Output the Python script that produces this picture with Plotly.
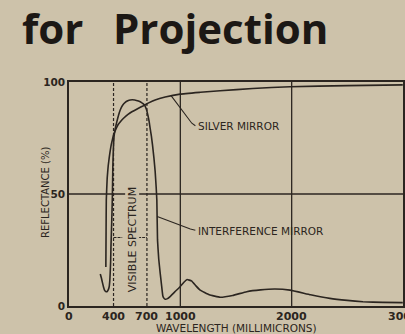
import plotly.graph_objects as go

# Reflectance curves, wavelength in millimicrons vs reflectance in percent
silver_wl = [331, 333, 335, 343, 352, 361, 370, 379, 390, 400, 420, 439, 465, 490, 530, 565, 620,
             669, 720, 774, 864, 998, 1180, 1357, 1650, 1985, 2500, 2998]
silver_r = [17.4, 33, 47.3, 57.1, 62.5, 66.1, 69.3, 71.9, 74.3, 76.3, 78.8, 80.8, 82.5, 83.8, 85.5, 86.7, 88.2,
            89.4, 90.8, 92, 93.3, 94.6, 95.4, 96.1, 97.1, 97.9, 98.4, 98.7]

interf_wl = [281, 291, 301, 310, 319, 330, 341, 352, 361, 366, 370, 374, 377, 381, 386, 390, 394, 400,
             406, 418, 430, 445, 460, 480, 505, 528, 550, 590, 624, 652, 678, 695, 708, 720, 729, 740,
             750, 763, 774, 783, 789, 795, 806, 819, 832, 843, 854, 864, 885, 908, 950, 998, 1030, 1061,
             1100, 1140, 1178, 1260, 1357, 1470, 1596, 1720, 1850, 1985, 2170, 2343, 2500, 2640, 2820, 2998]
interf_r = [14.3, 12.5, 10.3, 8.5, 7.1, 6.5, 6.4, 7.2, 8.6, 11, 14.7, 20, 26.5, 33, 41.5, 50, 63, 72,
            76.3, 79.8, 82.3, 85.2, 87.5, 89.5, 90.9, 91.6, 92, 92, 91.5, 90.8, 89.7, 87.8, 85.3, 82.3, 79.3, 75.8,
            71.9, 66, 60, 53, 47.3, 29.5, 21, 14.7, 9, 4.5, 3.4, 3, 3.3, 4.2, 6.3, 8.6, 10.5, 11.8,
            11.2, 9, 7.1, 5, 3.9, 4.7, 6.4, 7.2, 7.6, 7.1, 5, 3.4, 2.5, 1.9, 1.6, 1.5]

x_ticks = [0, 400, 700, 1000, 2000, 3000]
y_ticks = [0, 50, 100]
visible_band = [400, 700]
solid_grid_x = [1000, 2000]
solid_grid_y = [50]

BG = "#cdc2aa"
INK = "#2b2520"
FIG_W, FIG_H = 405, 334
M_L, M_R, M_T, M_B = 69, 2, 82, 28


def px(x):
    return (x - M_L) / (FIG_W - M_L - M_R)


def py(y):
    return (FIG_H - M_B - y) / (FIG_H - M_T - M_B)


fig = go.Figure()
for wl, r in ((silver_wl, silver_r), (interf_wl, interf_r)):
    fig.add_trace(go.Scatter(x=wl, y=r, mode="lines",
                             line=dict(color=INK, width=1.6, shape="spline", smoothing=0.3),
                             hoverinfo="skip", showlegend=False))

shapes = []
for v in visible_band:
    shapes.append(dict(type="line", xref="x", yref="y", x0=v, x1=v, y0=0, y1=100,
                       line=dict(color=INK, width=1.2, dash="3px,2px"), layer="below"))
for v in solid_grid_x:
    shapes.append(dict(type="line", xref="x", yref="y", x0=v, x1=v, y0=0, y1=100,
                       line=dict(color=INK, width=1.3), layer="below"))
for v in solid_grid_y:
    shapes.append(dict(type="line", xref="x", yref="y", x0=0, x1=3000, y0=v, y1=v,
                       line=dict(color=INK, width=1.3), layer="below"))

# bracket marks for the visible band label
bracket_r = 30.6
shapes.append(dict(type="line", xref="x", yref="y", x0=visible_band[0], x1=478, y0=bracket_r, y1=bracket_r,
                   line=dict(color=INK, width=1.1, dash="3px,1px")))
shapes.append(dict(type="line", xref="x", yref="y", x0=621, x1=visible_band[1], y0=bracket_r, y1=bracket_r,
                   line=dict(color=INK, width=1.1, dash="3px,1px")))

# leader lines to curve labels
shapes.append(dict(type="path", xref="x", yref="y",
                   path="M 915 94 L 1103 81.6 L 1135 80.5", line=dict(color=INK, width=1.1)))
shapes.append(dict(type="path", xref="x", yref="y",
                   path="M 792 40 L 1090 34.4 L 1135 33.8", line=dict(color=INK, width=1.1)))

label_font = dict(family="DejaVu Sans", size=10.5, color=INK)
title_font = dict(family="Open Sans", size=42, color="#1c1815", weight="bold")
tick_font = dict(family="DejaVu Sans", size=11, color=INK, weight="bold")
annotations = [
    dict(text="for", x=px(20), y=py(27), xref="paper", yref="paper", xanchor="left", yanchor="middle",
         showarrow=False, font=title_font),
    dict(text="Projection", x=px(111), y=py(27), xref="paper", yref="paper", xanchor="left", yanchor="middle",
         showarrow=False, font=title_font),
    dict(text="SILVER MIRROR", x=1145, y=80.5, xref="x", yref="y", xanchor="left", yanchor="middle",
         showarrow=False, font=label_font),
    dict(text="INTERFERENCE MIRROR", x=1145, y=33.6, xref="x", yref="y", xanchor="left", yanchor="middle",
         showarrow=False, font=label_font),
    dict(text="VISIBLE SPECTRUM", x=565, y=29.8, xref="x", yref="y", xanchor="center", yanchor="middle",
         textangle=-90, showarrow=False, bgcolor=BG, borderpad=0, font=dict(family="DejaVu Sans", size=11, color=INK)),
    dict(text="REFLECTANCE (%)", x=px(45), y=py(193), xref="paper", yref="paper", xanchor="center", yanchor="middle",
         textangle=-90, showarrow=False, font=dict(family="DejaVu Sans", size=10, color=INK)),
    dict(text="WAVELENGTH (MILLIMICRONS)", x=px(236.5), y=py(328), xref="paper", yref="paper",
         xanchor="center", yanchor="middle", showarrow=False, font=dict(family="DejaVu Sans", size=10.5, color=INK)),
]
# x tick labels written as text so the last one may run off the page edge
for v in x_ticks:
    annotations.append(dict(text=str(v), x=v, y=py(316), xref="x", yref="paper", xanchor="center",
                            yanchor="middle", showarrow=False, font=tick_font))

fig.update_layout(
    width=FIG_W, height=FIG_H,
    margin=dict(l=M_L, r=M_R, t=M_T, b=M_B, pad=0, autoexpand=False),
    paper_bgcolor=BG, plot_bgcolor=BG,
    shapes=shapes, annotations=annotations,
    xaxis=dict(range=[0, 3000], tickvals=x_ticks, showticklabels=False, automargin=False,
               showgrid=False, zeroline=False, showline=True, mirror=True, linecolor=INK, linewidth=1.6,
               ticks=""),
    yaxis=dict(range=[0, 100], tickvals=y_ticks, showgrid=False, zeroline=False, showline=True, mirror=True,
               linecolor=INK, linewidth=1.6, ticks="", automargin=False,
               tickfont=dict(family="DejaVu Sans", size=10.5, color=INK, weight="bold")),
)

fig.write_html("out.html")
